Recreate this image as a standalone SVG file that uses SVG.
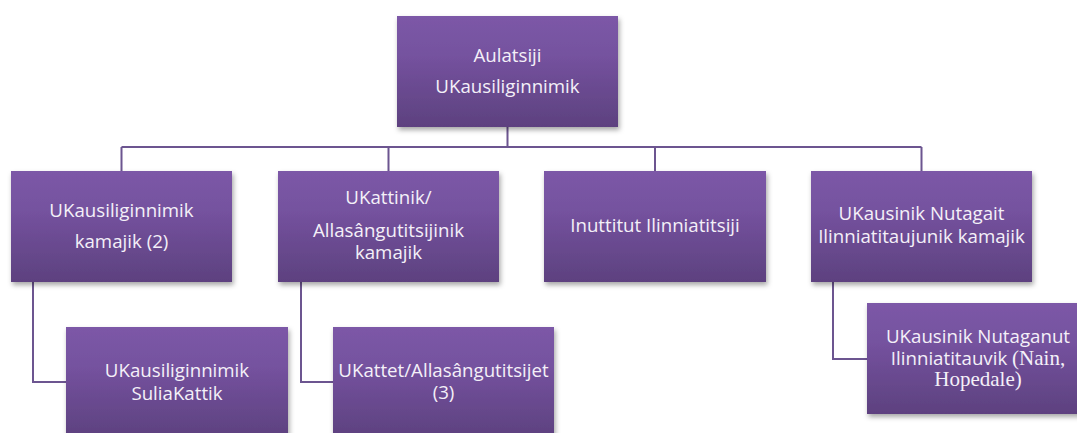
<svg xmlns="http://www.w3.org/2000/svg" width="1077" height="433" viewBox="0 0 1077 433">
<defs>
<linearGradient id="g" x1="0" y1="0" x2="0" y2="1">
<stop offset="0" stop-color="#7c58a7"/>
<stop offset="0.35" stop-color="#75529f"/>
<stop offset="1" stop-color="#5d417f"/>
</linearGradient>
<filter id="sh" x="-10%" y="-10%" width="125%" height="130%">
<feDropShadow dx="1.5" dy="3" stdDeviation="2.5" flood-color="#000" flood-opacity="0.35"/>
</filter>
<style>
.box{fill:url(#g);filter:url(#sh)}
.t{font-family:"Open Sans","Liberation Sans",sans-serif;font-size:18.7px;fill:#f4f0f8;text-anchor:middle}
.s{font-family:"Liberation Serif",serif;font-size:21px}
.c{fill:none;stroke:#6c5590;stroke-width:2}
</style>
</defs>
<rect width="1077" height="433" fill="#fff"/>
<g id="connectors">
<path class="c" d="M507.5 127V147M121.5 147H921.5M121.5 147V171M388.5 147V171M655 147V171M921.5 147V171"/>
<path class="c" d="M33 282V382H66M301 282V382H333M833 282V359H867"/>
</g>
<g id="n0"><rect class="box" x="397" y="16" width="221" height="111"/>
<text class="t" x="507.5" y="62">Aulatsiji</text><text class="t" x="507.5" y="93">UKausiliginnimik</text></g>
<g id="n1"><rect class="box" x="11" y="171" width="221" height="111"/>
<text class="t" x="121.5" y="217">UKausiliginnimik</text><text class="t" x="121.5" y="248">kamajik (2)</text></g>
<g id="n2"><rect class="box" x="278" y="171" width="221" height="111"/>
<text class="t" x="388.5" y="204">UKattinik/</text><text class="t" x="388.5" y="237">Allasângutitsijinik</text><text class="t" x="388.5" y="259">kamajik</text></g>
<g id="n3"><rect class="box" x="544" y="171" width="222" height="111"/>
<text class="t" x="655" y="232">Inuttitut Ilinniatitsiji</text></g>
<g id="n4"><rect class="box" x="811" y="171" width="221" height="111"/>
<text class="t" x="921.5" y="220">UKausinik Nutagait</text><text class="t" x="921.5" y="243">Ilinniatitaujunik kamajik</text></g>
<g id="n5"><rect class="box" x="66" y="327" width="222" height="111"/>
<text class="t" x="177" y="377">UKausiliginnimik</text><text class="t" x="177" y="400">SuliaKattik</text></g>
<g id="n6"><rect class="box" x="333" y="327" width="221" height="111"/>
<text class="t" x="443.5" y="377">UKattet/Allasângutitsijet</text><text class="t" x="443.5" y="399">(3)</text></g>
<g id="n7"><rect class="box" x="867" y="303" width="221" height="111"/>
<text class="t" x="978" y="343">UKausinik Nutaganut</text><text class="t" x="978" y="365">Ilinniatitauvik <tspan class="s">(Nain,</tspan></text><text class="t s" x="978" y="386">Hopedale)</text></g>
</svg>
